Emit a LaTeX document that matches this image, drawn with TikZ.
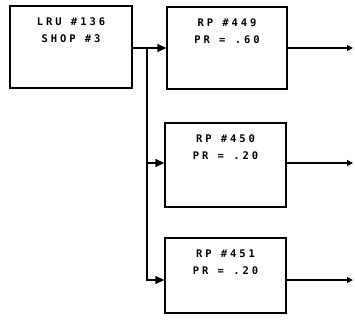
\documentclass[tikz,border=0pt]{standalone}
\usepackage{fontspec}
\newfontfamily\boxfont[LetterSpace=28]{DejaVu Sans Mono}
\usetikzlibrary{arrows.meta}
\begin{document}
\begin{tikzpicture}[x=1pt,y=1pt,
  blk/.style={draw, line width=1.4pt, inner sep=0pt},
  txt/.style={font=\boxfont\bfseries\fontsize{10.5}{17}\selectfont, align=center, inner sep=0pt, anchor=north},
  conn/.style={line width=1.4pt, -{Triangle[length=9pt,width=8pt]}},
  outl/.style={line width=1.2pt, -{Triangle[length=6pt,width=6pt]}}]
\useasboundingbox (0,0) rectangle (355,324);
\node[blk, minimum width=122pt, minimum height=82pt] (lru) at (71,277) {};
\node[blk, minimum width=120pt, minimum height=82pt] (rpa) at (227,276) {};
\node[blk, minimum width=121pt, minimum height=84pt] (rpb) at (225.5,159) {};
\node[blk, minimum width=121pt, minimum height=75pt] (rpc) at (225.5,48.5) {};
\node[txt] (tlru) at ([yshift=-12pt]lru.north) {LRU \#136\\SHOP \#3};
\node[txt] (ta) at ([yshift=-12pt]rpa.north) {RP \#449\\PR = .60};
\node[txt] (tb) at ([yshift=-12pt]rpb.north) {RP \#450\\PR = .20};
\node[txt] (tc) at ([yshift=-12pt]rpc.north) {RP \#451\\PR = .20};
\coordinate (j) at (147,276);
\coordinate (oa) at (353,276);
\coordinate (ob) at (353,161);
\coordinate (oc) at (353,44);
\draw[conn] (lru.east |- j) -- (j) -- (rpa.west |- j);
\draw[conn] (j) -- (j |- 0,44) -- (rpc.west |- 0,44);
\draw[conn] (j |- 0,161) -- (rpb.west |- 0,161);
\draw[outl] (rpa.east |- oa) -- (oa);
\draw[outl] (rpb.east |- ob) -- (ob);
\draw[outl] (rpc.east |- oc) -- (oc);
\end{tikzpicture}
\end{document}
